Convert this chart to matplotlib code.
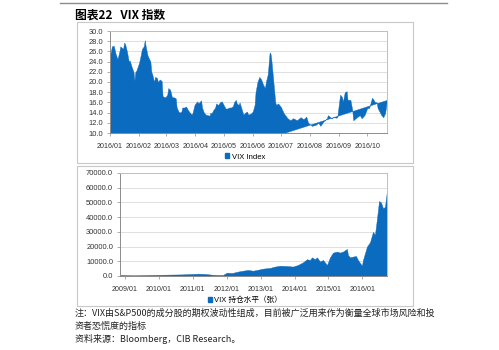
import numpy as np
import pandas as pd
import matplotlib
matplotlib.use('Agg')
import matplotlib.pyplot as plt
import matplotlib.dates as mdates
from matplotlib.patches import Rectangle, Patch
from matplotlib.lines import Line2D

plt.rcParams['font.family'] = ['Liberation Sans', 'Noto Sans CJK SC', 'DejaVu Sans']

# VIX index, 2016
vix_dates = [
    '2016-01-01', '2016-01-03', '2016-01-05', '2016-01-07', '2016-01-09', '2016-01-11',
    '2016-01-12', '2016-01-13', '2016-01-15', '2016-01-16', '2016-01-17', '2016-01-19',
    '2016-01-21', '2016-01-22', '2016-01-24', '2016-01-26', '2016-01-27', '2016-01-28',
    '2016-01-29', '2016-02-01', '2016-02-03', '2016-02-04', '2016-02-06', '2016-02-07',
    '2016-02-08', '2016-02-10', '2016-02-11', '2016-02-13', '2016-02-14', '2016-02-15',
    '2016-02-17', '2016-02-18', '2016-02-20', '2016-02-21', '2016-02-23', '2016-02-25',
    '2016-02-26', '2016-02-29', '2016-03-02', '2016-03-03', '2016-03-05', '2016-03-07',
    '2016-03-09', '2016-03-11', '2016-03-12', '2016-03-14', '2016-03-15', '2016-03-17',
    '2016-03-18', '2016-03-20', '2016-03-22', '2016-03-24', '2016-03-26', '2016-03-28',
    '2016-03-29', '2016-03-31', '2016-04-01', '2016-04-03', '2016-04-04', '2016-04-06',
    '2016-04-07', '2016-04-08', '2016-04-10', '2016-04-12', '2016-04-14', '2016-04-16',
    '2016-04-17', '2016-04-18', '2016-04-20', '2016-04-22', '2016-04-23', '2016-04-25',
    '2016-04-26', '2016-04-27', '2016-04-29', '2016-05-01', '2016-05-03', '2016-05-05',
    '2016-05-07', '2016-05-09', '2016-05-11', '2016-05-12', '2016-05-14', '2016-05-15',
    '2016-05-17', '2016-05-18', '2016-05-20', '2016-05-22', '2016-05-24', '2016-05-26',
    '2016-05-27', '2016-05-30', '2016-06-01', '2016-06-03', '2016-06-04', '2016-06-06',
    '2016-06-08', '2016-06-10', '2016-06-12', '2016-06-14', '2016-06-15', '2016-06-17',
    '2016-06-19', '2016-06-20', '2016-06-21', '2016-06-23', '2016-06-25', '2016-06-26',
    '2016-06-28', '2016-07-01', '2016-07-04', '2016-07-08', '2016-07-11', '2016-07-14',
    '2016-07-18', '2016-07-22', '2016-07-25', '2016-07-28', '2016-07-30', '2016-08-03',
    '2016-08-07', '2016-08-10', '2016-08-12', '2016-08-15', '2016-08-19', '2016-08-20',
    '2016-08-24', '2016-08-26', '2016-08-29', '2016-08-30', '2016-09-02', '2016-09-04',
    '2016-09-05', '2016-09-07', '2016-09-09', '2016-09-10', '2016-09-13', '2016-09-15',
    '2016-09-16', '2016-09-20', '2016-09-23', '2016-09-25', '2016-09-28', '2016-10-01',
    '2016-10-03', '2016-10-06', '2016-10-07', '2016-10-09', '2016-10-11', '2016-10-12',
    '2016-10-16', '2016-10-18', '2016-10-20', '2016-10-22',
]
vix_values = [
    25.0, 27.0, 27.1, 25.5, 24.5, 26.0,
    27.0, 26.8, 26.5, 27.7, 27.5, 26.0,
    24.0, 24.2, 23.0, 22.0, 20.3, 22.0,
    22.2, 23.8, 25.5, 26.5, 27.0, 28.2,
    27.0, 25.2, 24.8, 24.0, 22.0, 21.5,
    20.0, 21.0, 20.8, 20.0, 20.5, 20.2,
    17.2, 17.0, 17.5, 18.8, 18.5, 17.0,
    17.0, 16.8, 15.0, 14.2, 14.0, 14.2,
    15.0, 15.0, 15.2, 14.5, 14.0, 13.6,
    14.0, 15.5, 15.8, 16.2, 15.8, 16.2,
    16.4, 15.0, 14.0, 13.6, 13.5, 13.4,
    14.0, 13.8, 14.5, 15.0, 15.8, 15.5,
    15.7, 16.0, 16.2, 15.5, 14.8, 14.8,
    15.0, 15.0, 15.3, 16.0, 16.5, 15.8,
    15.5, 16.0, 14.8, 13.6, 14.0, 14.2,
    13.6, 13.8, 14.2, 15.5, 18.0, 20.0,
    21.0, 20.5, 19.5, 18.8, 20.0, 21.5,
    25.8, 25.5, 24.0, 20.0, 16.0, 15.5,
    15.8, 15.1, 13.9, 12.9, 12.5, 12.9,
    12.5, 13.1, 12.7, 13.2, 12.0, 11.4,
    11.6, 12.0, 11.4, 12.2, 12.9, 13.5,
    12.9, 13.1, 13.0, 13.1, 17.5, 17.1,
    16.1, 18.0, 18.2, 16.5, 16.5, 14.5,
    12.5, 13.1, 13.5, 12.9, 13.5, 14.9,
    14.9, 16.9, 16.7, 16.1, 16.0, 14.9,
    13.5, 13.1, 13.9, 16.5,
]
ramp_start = '2016-07-04'   # where the area's lower edge starts to climb

# VIX futures open interest (contracts)
oi_dates = [
    '2008-11-08', '2009-04-18', '2009-09-05', '2010-03-07', '2010-09-07', '2010-12-23',
    '2011-02-25', '2011-05-12', '2011-07-26', '2011-09-29', '2011-11-21', '2012-01-04',
    '2012-02-26', '2012-05-01', '2012-06-24', '2012-08-17', '2012-10-10', '2012-11-22',
    '2013-01-25', '2013-04-11', '2013-06-04', '2013-07-27', '2013-10-11', '2013-12-14',
    '2014-02-06', '2014-04-01', '2014-05-14', '2014-06-15', '2014-07-07', '2014-08-08',
    '2014-08-30', '2014-10-01', '2014-11-02', '2014-12-16', '2015-01-17', '2015-02-18',
    '2015-04-02', '2015-05-04', '2015-06-06', '2015-07-19', '2015-07-29', '2015-08-20',
    '2015-09-21', '2015-10-24', '2015-11-14', '2015-12-27', '2016-01-07', '2016-02-19',
    '2016-03-23', '2016-04-24', '2016-05-15', '2016-06-06', '2016-06-28', '2016-07-19',
    '2016-08-10', '2016-08-31', '2016-09-22',
]
oi_values = [
    700, 500, 700, 900, 1100, 1400,
    1600, 1400, 900, 700, 700, 2300,
    2000, 3000, 3600, 4100, 3600, 4100,
    5000, 5500, 6400, 7000, 6800, 6400,
    7500, 9300, 11400, 10900, 12700, 11400,
    12700, 9800, 10900, 7500, 12700, 15900,
    16600, 15900, 16600, 18400, 14300, 12700,
    13200, 13600, 10900, 7000, 10900, 20000,
    23000, 30000, 28000, 39000, 51000, 50000,
    46000, 47000, 58000,
]

BLUE = '#0b6bbf'
W, H = 499, 350

fig = plt.figure(figsize=(W / 100, H / 100), dpi=100)

def fx(px):
    return px / W

def fy(py):
    return 1 - py / H

# top rule and the two chart frames
fig.add_artist(Line2D([fx(60), fx(447)], [fy(3), fy(3)], color='#8c8c8c', lw=1.0))
for top, bot in [(22, 163), (166, 306)]:
    fig.add_artist(Rectangle((fx(77), fy(bot)), fx(413) - fx(77), fy(top) - fy(bot),
                             fill=False, edgecolor='#c8c8c8', lw=0.8))

fig.text(fx(75), fy(15), '图表22   VIX 指数', fontsize=8.5, fontweight='bold',
         family=['Noto Sans CJK SC', 'DejaVu Sans'], va='center', ha='left')


def style(ax):
    ax.set_facecolor('white')
    for s in ['top', 'right']:
        ax.spines[s].set_color('#bfbfbf')
    for s in ['left', 'bottom']:
        ax.spines[s].set_color('#8c8c8c')
    for s in ax.spines.values():
        s.set_linewidth(0.7)
    ax.grid(axis='y', color='#d9d9d9', lw=0.6)
    ax.set_axisbelow(True)
    ax.tick_params(axis='both', length=2, width=0.5, color='#8c8c8c', labelcolor='#333333')
    ax.tick_params(axis='x', pad=5, labelsize=5.1)
    ax.tick_params(axis='y', pad=3, labelsize=5.4)


# upper chart: VIX index
ax1 = fig.add_axes([fx(110), fy(133), fx(387) - fx(110), fy(31) - fy(133)])
d1 = pd.to_datetime(vix_dates)
v1 = np.array(vix_values)
t1 = mdates.date2num(d1)
base = np.interp(t1, [mdates.date2num(pd.Timestamp(ramp_start)), t1[-1]], [10, v1[-1]])
ax1.fill_between(d1, v1, base, color=BLUE, lw=0.3, edgecolor=BLUE)
ax1.set_ylim(10, 30)
ax1.set_yticks(np.arange(10, 30.1, 2))
ax1.yaxis.set_major_formatter(lambda v, p: f'{v:.1f}')
ax1.set_xlim(d1[0], d1[-1])
ax1.xaxis.set_major_locator(mdates.MonthLocator())
ax1.xaxis.set_major_formatter(mdates.DateFormatter('%Y/%m'))
style(ax1)

fig.legend(handles=[Patch(color=BLUE, label='VIX Index')], loc='center',
           bbox_to_anchor=(fx(245), fy(157)), frameon=False, fontsize=5.5,
           handlelength=0.6, handleheight=0.6, handletextpad=0.3)

# lower chart: open interest
ax2 = fig.add_axes([fx(120), fy(276), fx(387) - fx(120), fy(173) - fy(276)])
d2 = pd.to_datetime(oi_dates)
ax2.fill_between(d2, oi_values, 0, color=BLUE, lw=0.3, edgecolor=BLUE)
ax2.set_ylim(0, 70000)
ax2.set_yticks(np.arange(0, 70001, 10000))
ax2.yaxis.set_major_formatter(lambda v, p: f'{v:.1f}')
ax2.set_xlim(d2[0], d2[-1])
ax2.xaxis.set_major_locator(mdates.YearLocator())
ax2.xaxis.set_major_formatter(mdates.DateFormatter('%Y/%m'))
style(ax2)

fig.legend(handles=[Patch(color=BLUE, label='VIX 持仓水平（张）')], loc='center',
           bbox_to_anchor=(fx(245), fy(300)), frameon=False, fontsize=5.5,
           handlelength=0.6, handleheight=0.6, handletextpad=0.3)

# notes
note_font = ['Noto Sans CJK SC', 'DejaVu Sans']
notes = [
    '注：VIX由S&P500的成分股的期权波动性组成，目前被广泛用来作为衡量全球市场风险和投',
    '资者恐慌度的指标',
    '资料来源：Bloomberg，CIB Research。',
]
for i, line in enumerate(notes):
    fig.text(fx(75), fy(313 + 13 * i), line, fontsize=6.5, family=note_font,
             va='center', ha='left', color='#222222', style='italic')

fig.savefig('out.png', dpi=100)
